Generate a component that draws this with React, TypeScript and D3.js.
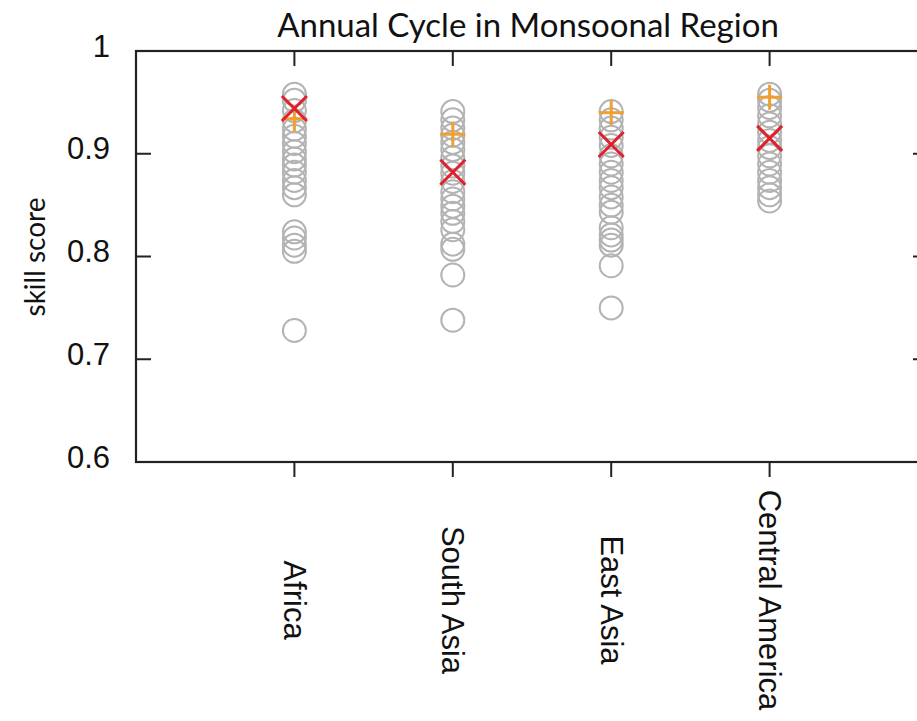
import React from "react";
import * as d3 from "d3";

const categories = ["Africa", "South Asia", "East Asia", "Central America"];

const modelScores: number[][] = [
  [0.958, 0.952, 0.942, 0.932, 0.924, 0.917, 0.910, 0.902, 0.895, 0.889, 0.882, 0.874, 0.867, 0.860, 0.824, 0.818, 0.811, 0.805, 0.728],
  [0.941, 0.933, 0.925, 0.918, 0.911, 0.904, 0.896, 0.888, 0.881, 0.873, 0.863, 0.856, 0.849, 0.842, 0.834, 0.826, 0.812, 0.807, 0.782, 0.738],
  [0.941, 0.933, 0.925, 0.916, 0.908, 0.898, 0.890, 0.882, 0.874, 0.867, 0.858, 0.850, 0.843, 0.828, 0.821, 0.816, 0.811, 0.791, 0.750],
  [0.958, 0.952, 0.945, 0.937, 0.929, 0.921, 0.913, 0.906, 0.898, 0.890, 0.882, 0.874, 0.867, 0.860, 0.854],
];

const crossScores = [0.944, 0.882, 0.909, 0.915];
const plusScores = [0.934, 0.919, 0.940, 0.955];

const yTicks = [0.6, 0.7, 0.8, 0.9, 1];
const yTickLabels = ["0.6", "0.7", "0.8", "0.9", "1"];

const title = "Annual Cycle in Monsoonal Region";
const yLabel = "skill score";

const W = 917;
const H = 721;
const left = 136;
const right = 928;
const top = 51;
const bottom = 462;

export default function App() {
  const x = d3.scaleLinear().domain([0, categories.length + 1]).range([left, right]);
  const y = d3.scaleLinear().domain([0.6, 1]).range([bottom, top]);
  const r = 11.5;
  const axisColor = "#222";
  const tickLen = 15;
  const labelFont = "'Liberation Sans', Arial, sans-serif";
  const titleFont = "Lato, 'Open Sans', sans-serif";

  return (
    <svg
      width={W}
      height={H}
      style={{ position: "absolute", left: 0, top: 0, background: "#fff" }}
    >
      <rect x={0} y={0} width={W} height={H} fill="#ffffff" />
      {/* title */}
      <text x={528} y={37} textAnchor="middle" fontFamily={titleFont} fontSize={33} fill="#111">
        {title}
      </text>
      {/* y label */}
      <text
        transform={`translate(45,257) rotate(-90)`}
        textAnchor="middle"
        fontFamily={titleFont}
        fontSize={28}
        fill="#111"
      >
        {yLabel}
      </text>

      {/* frame */}
      <rect
        x={left}
        y={top}
        width={right - left}
        height={bottom - top}
        fill="none"
        stroke={axisColor}
        strokeWidth={2.2}
      />

      {/* y ticks */}
      {yTicks.map((t, i) => (
        <g key={"yt" + i}>
          <line x1={left} x2={left + tickLen} y1={y(t)} y2={y(t)} stroke={axisColor} strokeWidth={2} />
          <line x1={right} x2={right - tickLen} y1={y(t)} y2={y(t)} stroke={axisColor} strokeWidth={2} />
          <text
            x={left - 26}
            y={y(t) - 5}
            textAnchor="end"
            dominantBaseline="central"
            fontFamily={labelFont}
            fontSize={31}
            fill="#111"
          >
            {yTickLabels[i]}
          </text>
        </g>
      ))}

      {/* x ticks and labels */}
      {categories.map((c, i) => {
        const cx = x(i + 1);
        return (
          <g key={"xt" + i}>
            <line x1={cx} x2={cx} y1={top} y2={top + tickLen} stroke={axisColor} strokeWidth={2} />
            <line x1={cx} x2={cx} y1={bottom} y2={bottom + tickLen} stroke={axisColor} strokeWidth={2} />
            <text
              transform={`translate(${cx},600) rotate(90)`}
              textAnchor="middle"
              dominantBaseline="central"
              fontFamily={labelFont}
              fontSize={31}
              fill="#111"
            >
              {c}
            </text>
          </g>
        );
      })}

      {/* model circles */}
      {modelScores.map((vals, i) =>
        vals.map((v, j) => (
          <circle
            key={`c${i}-${j}`}
            cx={x(i + 1)}
            cy={y(v)}
            r={r}
            fill="none"
            stroke="#b3b3b3"
            strokeWidth={2}
          />
        ))
      )}

      {/* plus markers */}
      {plusScores.map((v, i) => {
        const cx = x(i + 1);
        const cy = y(v);
        const s = 12.5;
        return (
          <g key={"p" + i} stroke="#f0a030" strokeWidth={3}>
            <line x1={cx - s} x2={cx + s} y1={cy} y2={cy} />
            <line x1={cx} x2={cx} y1={cy - s} y2={cy + s} />
          </g>
        );
      })}

      {/* cross markers */}
      {crossScores.map((v, i) => {
        const cx = x(i + 1);
        const cy = y(v);
        const s = 12.5;
        return (
          <g key={"x" + i} stroke="#e0202a" strokeWidth={3}>
            <line x1={cx - s} x2={cx + s} y1={cy - s} y2={cy + s} />
            <line x1={cx - s} x2={cx + s} y1={cy + s} y2={cy - s} />
          </g>
        );
      })}
    </svg>
  );
}
